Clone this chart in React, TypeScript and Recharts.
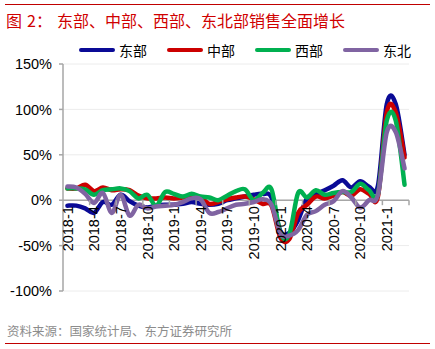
import React from 'react';
import { LineChart, Line, XAxis, YAxis, CartesianGrid, ReferenceLine } from 'recharts';

const months = [
  '2018-1', '2018-2', '2018-3', '2018-4', '2018-5', '2018-6', '2018-7', '2018-8', '2018-9', '2018-10', '2018-11', '2018-12',
  '2019-1', '2019-2', '2019-3', '2019-4', '2019-5', '2019-6', '2019-7', '2019-8', '2019-9', '2019-10', '2019-11', '2019-12',
  '2020-1', '2020-2', '2020-3', '2020-4', '2020-5', '2020-6', '2020-7', '2020-8', '2020-9', '2020-10', '2020-11', '2020-12',
  '2021-1', '2021-2', '2021-3',
];

// 东部
const east = [
  -6, -6, -9, -14, -2, -5, 6, -1, -6, -8, -6, -5,
  -5, -4, -2, -4, -5, -4, 0, 2, 4, 6, 7, 3,
  -34, -36, -22, 2, 7, 11, 16, 22, 14, 21, 15, 16,
  106, 106, 50,
];
// 中部
const central = [
  13, 13, 17, 10, 14, 11, 12, 11, 5, 2, 2, 3,
  2, 3, 3, 3, -4, -2, 1, 3, 4, 1, -4, -6,
  -41, -43, -14, -5, 4, 2, 5, 9, 5, 12, 7, 4,
  97, 97, 47,
];
// 西部
const west = [
  13, 13, 12, 6, 11, 12, 13, 10, 2, 6, -6, 9,
  7, 4, 7, 4, 3, 0, 5, 10, 12, 0, 8, 12,
  -36, -38, 8, 3, 11, 6, 8, 9, 9, 18, 11, 7,
  88, 88, 17,
];
// 东北
const northeast = [
  15, 14, 7, -3, 8, -14, 6, -17, -5, -9, -7, -6,
  -5, -2, 2, 1, -14, -13, -9, -5, -4, -2, 1, -5,
  -37, -39, -33, -16, -12, -5, -1, 10, 3, -8, 0, 6,
  75, 75, 35,
];

const yTicks = [-100, -50, 0, 50, 100, 150];

const series = [
  { key: 'east', name: '东部', color: '#0a0a96', values: east },
  { key: 'central', name: '中部', color: '#cc0000', values: central },
  { key: 'west', name: '西部', color: '#00b050', values: west },
  { key: 'northeast', name: '东北', color: '#8064a2', values: northeast },
];

const data = months.map((m, i) => {
  const row: Record<string, any> = { month: m };
  series.forEach((s) => {
    row[s.key] = s.values[i];
  });
  return row;
});

const CHART_W = 435;
const CHART_H = 349;
const MARGIN = { top: 64, right: 26, bottom: 28, left: 8 };
const Y_AXIS_W = 55;
const X_AXIS_H = 30;
const PLOT_LEFT = MARGIN.left + Y_AXIS_W;
const PLOT_W = CHART_W - PLOT_LEFT - MARGIN.right;
const PLOT_H = CHART_H - MARGIN.top - MARGIN.bottom - X_AXIS_H;
const Y_MIN = -100;
const Y_MAX = 150;
const ZERO_Y = MARGIN.top + (PLOT_H * Y_MAX) / (Y_MAX - Y_MIN);
const BAND = PLOT_W / months.length;
const AXIS_GRAY = '#a6a6a6';
const FONT = '"Liberation Sans", Arial, sans-serif';
const CJK = '"Noto Sans CJK SC", "Noto Sans", sans-serif';

// Excel-like smoothed line (Catmull-Rom through the points)
const excelSmooth: any = (context: any) => {
  let pts: number[][] = [];
  return {
    areaStart() {},
    areaEnd() {},
    lineStart() {
      pts = [];
    },
    point(x: number, y: number) {
      pts.push([+x, +y]);
    },
    lineEnd() {
      const n = pts.length;
      if (!n) return;
      context.moveTo(pts[0][0], pts[0][1]);
      for (let i = 0; i < n - 1; i++) {
        const p0 = pts[i - 1] || pts[i];
        const p1 = pts[i];
        const p2 = pts[i + 1];
        const p3 = pts[i + 2] || p2;
        context.bezierCurveTo(
          p1[0] + (p2[0] - p0[0]) / 6,
          p1[1] + (p2[1] - p0[1]) / 6,
          p2[0] - (p3[0] - p1[0]) / 6,
          p2[1] - (p3[1] - p1[1]) / 6,
          p2[0],
          p2[1],
        );
      }
    },
  };
};

function XTick(props: any) {
  const { x, payload } = props;
  const i = months.indexOf(payload.value);
  const bx = x - BAND / 2;
  return (
    <g>
      {i > 0 && <line x1={bx} x2={bx} y1={ZERO_Y} y2={ZERO_Y + 5} stroke={AXIS_GRAY} strokeWidth={1.5} />}
      {i === months.length - 3 && (
        <line x1={x + BAND * 2.5} x2={x + BAND * 2.5} y1={ZERO_Y} y2={ZERO_Y + 5} stroke={AXIS_GRAY} strokeWidth={1.5} />
      )}
      <text
        transform={`translate(${x},${ZERO_Y + 6}) rotate(-90)`}
        textAnchor="end"
        dy="0.36em"
        fontSize={14.5}
        fontFamily={FONT}
        fill="#000"
      >
        {payload.value}
      </text>
    </g>
  );
}

const titleStyle: React.CSSProperties = {
  position: 'absolute',
  top: 10,
  lineHeight: '20px',
  fontSize: 16,
  fontFamily: CJK,
  color: '#d00000',
  whiteSpace: 'nowrap',
};

export default function App() {
  return (
    <div
      style={{
        position: 'absolute',
        left: 0,
        top: 0,
        width: CHART_W,
        height: CHART_H,
        background: '#fff',
        overflow: 'hidden',
      }}
    >
      <div style={{ position: 'absolute', left: 5, right: 5, top: 4, height: 1, background: '#c00000' }} />
      <div style={{ ...titleStyle, left: 6 }}>图</div>
      <div style={{ ...titleStyle, left: 27 }}>2：</div>
      <div style={{ ...titleStyle, left: 57 }}>东部、中部、西部、东北部销售全面增长</div>

      <div style={{ position: 'absolute', left: 0, top: 0 }}>
        <LineChart width={CHART_W} height={CHART_H} data={data} margin={MARGIN}>
          <CartesianGrid vertical={false} stroke="#ececec" strokeWidth={1} />
          <XAxis
            dataKey="month"
            interval={2}
            padding={{ left: BAND / 2, right: BAND / 2 }}
            axisLine={false}
            tickLine={false}
            height={X_AXIS_H}
            tick={XTick}
          />
          <YAxis
            width={Y_AXIS_W}
            domain={[Y_MIN, Y_MAX]}
            ticks={yTicks}
            allowDataOverflow
            tickFormatter={(v: number) => `${v}%`}
            axisLine={{ stroke: AXIS_GRAY, strokeWidth: 1.5 }}
            tickLine={{ stroke: AXIS_GRAY, strokeWidth: 1.5 }}
            tickSize={4}
            tickMargin={7}
            tick={{ fontSize: 14.5, fill: '#000', fontFamily: FONT }}
          />
          <ReferenceLine y={0} stroke={AXIS_GRAY} strokeWidth={1.5} />
          {series.map((s) => (
            <Line
              key={s.key}
              dataKey={s.key}
              name={s.name}
              type={excelSmooth}
              stroke={s.color}
              strokeWidth={4.5}
              strokeLinecap="round"
              strokeLinejoin="round"
              dot={false}
              activeDot={false}
              isAnimationActive={false}
            />
          ))}
        </LineChart>
      </div>

      <div style={{ position: 'absolute', left: 79, top: 40, display: 'flex' }}>
        {series.map((s) => (
          <div key={s.key} style={{ width: 88, display: 'flex', alignItems: 'center', height: 20 }}>
            <div style={{ width: 36, height: 4, borderRadius: 2, background: s.color }} />
            <span
              style={{
                marginLeft: 4,
                fontSize: 14,
                fontFamily: CJK,
                color: '#000',
                lineHeight: '20px',
              }}
            >
              {s.name}
            </span>
          </div>
        ))}
      </div>

      <div
        style={{
          position: 'absolute',
          left: 7,
          top: 323,
          fontSize: 12.5,
          lineHeight: '16px',
          fontFamily: CJK,
          color: '#8c8c8c',
          whiteSpace: 'nowrap',
        }}
      >
        资料来源：国家统计局、东方证券研究所
      </div>
      <div style={{ position: 'absolute', left: 5, right: 5, top: 343, height: 1, background: '#c00000' }} />
    </div>
  );
}
